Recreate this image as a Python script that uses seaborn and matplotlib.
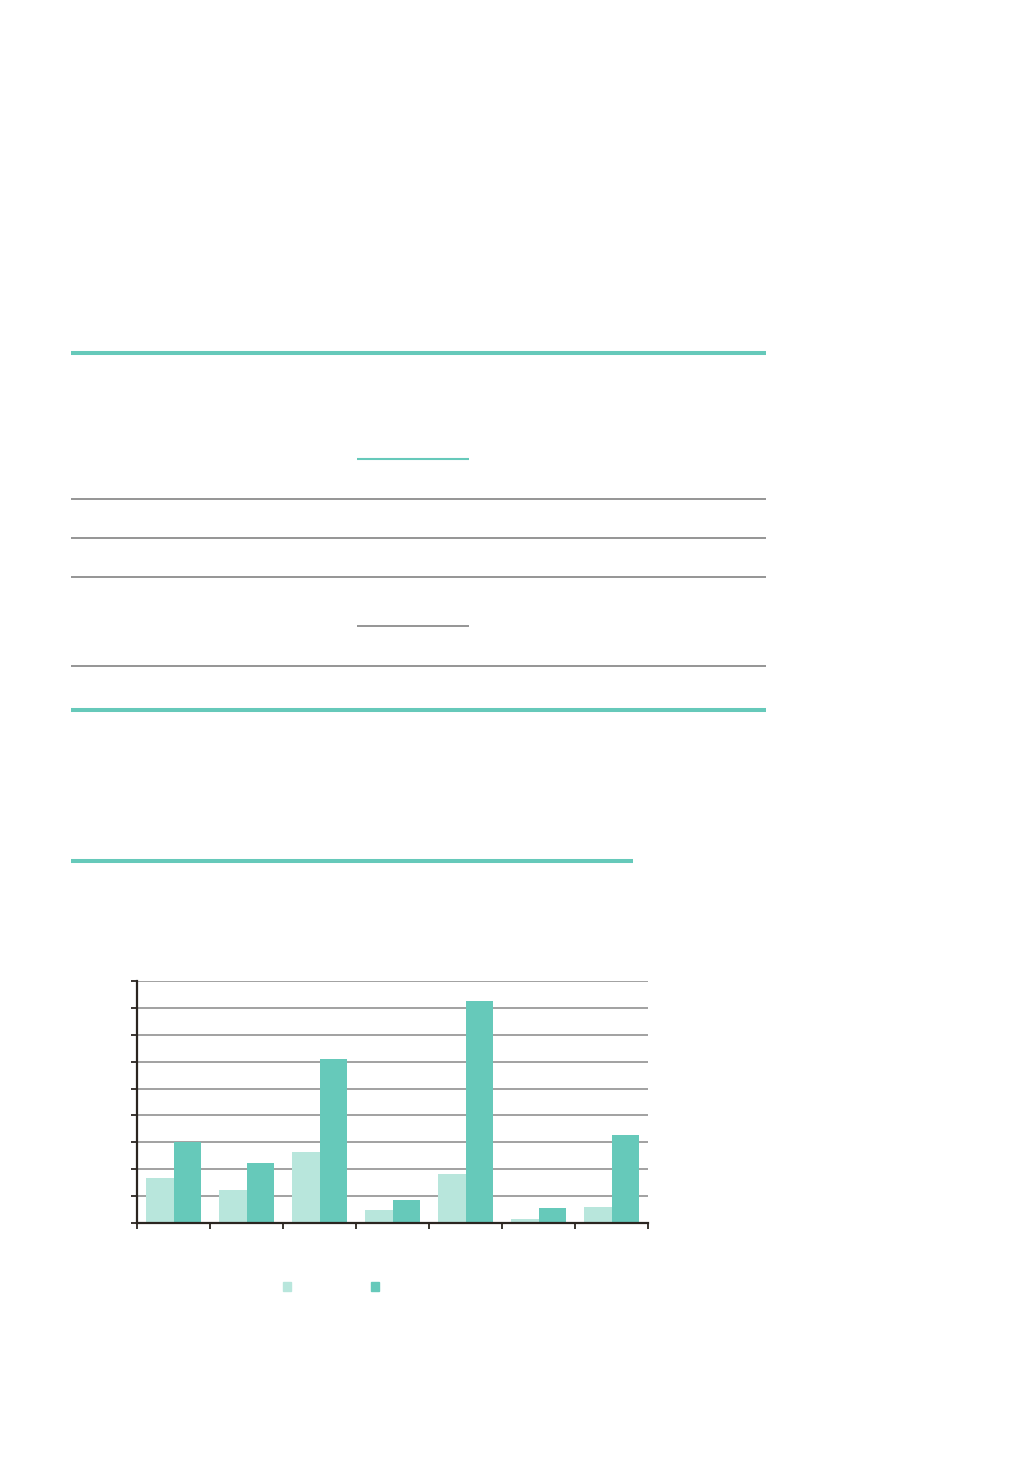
import matplotlib
matplotlib.use("Agg")
import matplotlib.pyplot as plt
import seaborn as sns
import pandas as pd

# bar values, in grid units (0..9)
groups = ["1", "2", "3", "4", "5", "6", "7"]
light_vals = [1.69, 1.23, 2.64, 0.47, 1.81, 0.16, 0.59]
dark_vals = [3.00, 2.25, 6.11, 0.84, 8.26, 0.57, 3.26]
series = ["light", "dark"]

teal = "#66c9ba"
teal_light = "#b8e6dc"
gray = "#8c8c8c"

# decorative table rules (y, x0, x1, colour, width) in page pixels
rule_y = [353, 459, 499, 538, 577, 626, 666, 710, 861]
rule_x0 = [71, 357, 71, 71, 71, 357, 71, 71, 71]
rule_x1 = [766, 469, 766, 766, 766, 469, 766, 766, 633]
rule_c = [teal, teal, gray, gray, gray, gray, gray, teal, teal]
rule_w = [2.9, 1.5, 1.3, 1.3, 1.3, 1.3, 1.3, 2.9, 2.9]

df = pd.DataFrame({
    "group": groups * 2,
    "value": light_vals + dark_vals,
    "series": [series[0]] * len(groups) + [series[1]] * len(groups),
})

sns.set_style("white")
W, H = 1036, 1476
fig = plt.figure(figsize=(W / 100, H / 100), dpi=100)

# page overlay for the table rules
page = fig.add_axes([0, 0, 1, 1])
page.set_xlim(0, W)
page.set_ylim(H, 0)
page.axis("off")
for y, a, b, c, w in zip(rule_y, rule_x0, rule_x1, rule_c, rule_w):
    page.hlines(y, a, b, colors=c, linewidth=w)

# bar chart
left, right, top, bottom = 137, 648, 981, 1223
ax = fig.add_axes([left / W, (H - bottom) / H, (right - left) / W, (bottom - top) / H])
sns.barplot(data=df, x="group", y="value", hue="series",
            palette=[teal_light, teal], width=0.74, gap=0,
            saturation=1, ax=ax, legend=False, linewidth=0)
ax.set_xlim(-0.5, len(groups) - 0.5)
ax.set_ylim(0, 9)
ax.set_yticks(range(10))
ax.yaxis.grid(True, color="#9a9a9a", linewidth=1.3)
ax.set_axisbelow(True)
ax.set_xticks([i - 0.5 for i in range(len(groups) + 1)])
ax.set_xticklabels([])
ax.set_yticklabels([])
ax.set_xlabel("")
ax.set_ylabel("")
for s in ["top", "right"]:
    ax.spines[s].set_visible(False)
for s in ["left", "bottom"]:
    ax.spines[s].set_color("#2b2520")
    ax.spines[s].set_linewidth(1.6)
ax.tick_params(axis="both", direction="out", length=4, width=1.3,
               color="#2b2520", left=True, bottom=True)

# legend keys (no label text in the reference)
handles = [plt.Rectangle((0, 0), 1, 1, color=c) for c in [teal_light, teal]]
fig.legend(handles, ["", ""], ncol=2, frameon=False,
           loc="center", bbox_to_anchor=(331 / W, 1 - 1287 / H),
           handlelength=0.6, handleheight=0.6, handletextpad=0,
           columnspacing=5.7)

fig.savefig("out.png", dpi=100, facecolor="white")
